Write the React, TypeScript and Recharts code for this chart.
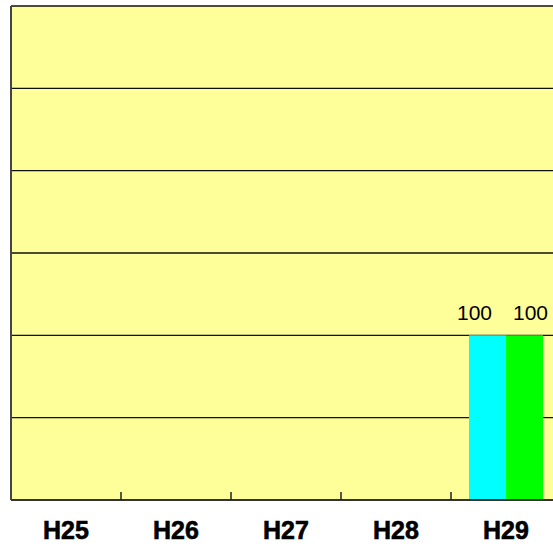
import React from "react";
import { BarChart, Bar, XAxis, YAxis, CartesianGrid, LabelList } from "recharts";

const categories = ["H25", "H26", "H27", "H28", "H29"];
const seriesA = [null, null, null, null, 100];
const seriesB = [null, null, null, null, 100];
const yTicks = [0, 50, 100, 150, 200, 250, 300];

const data = categories.map((c, i) => ({ name: c, a: seriesA[i], b: seriesB[i] }));

const FONT = "'Liberation Sans', Arial, sans-serif";

const CatTick = (props: any) => {
  const { x, y, payload, index } = props;
  const off = payload && typeof payload.offset === "number" && payload.offset > 0 ? payload.offset : 55;
  return (
    <g>
      {index > 0 && (
        <line x1={x - off} x2={x - off} y1={y} y2={y - 8} stroke="#222" strokeWidth={1.5} />
      )}
      <text
        x={x}
        y={y + 39}
        textAnchor="middle"
        fontFamily={FONT}
        fontWeight="bold"
        fontSize={25}
        fill="#000"
        stroke="#000"
        strokeWidth={0.6}
      >
        {payload.value}
      </text>
    </g>
  );
};

const EmptyTick = () => <g />;

const makeLabel = (dx: number) => (props: any) => {
  const { x, y, width, value } = props;
  if (value == null) return null;
  return (
    <text
      x={x + width / 2 + dx}
      y={y - 15}
      textAnchor="middle"
      fontFamily={FONT}
      fontSize={21}
      fill="#000"
    >
      {value}
    </text>
  );
};

export default function App() {
  return (
    <div style={{ position: "absolute", left: 0, top: 0, width: 553, height: 546, overflow: "hidden", background: "#fff" }}>
      <BarChart
        width={575}
        height={546}
        data={data}
        margin={{ top: 6, left: 10, right: 14, bottom: 0 }}
        barCategoryGap={18}
        barGap={0}
      >
        <CartesianGrid
          vertical={false}
          stroke="#111"
          strokeWidth={1.3}
          fill="#FFFF99"
          fillOpacity={1}
        />
        <XAxis
          dataKey="name"
          height={46}
          tickLine={false}
          tickSize={0}
          tickMargin={0}
          axisLine={{ stroke: "#333", strokeWidth: 2 }}
          tick={<CatTick />}
          interval={0}
        />
        <YAxis
          width={1}
          domain={[0, 300]}
          ticks={yTicks}
          interval={0}
          tick={<EmptyTick />}
          tickLine={false}
          axisLine={{ stroke: "#444", strokeWidth: 2 }}
        />
        <Bar dataKey="a" fill="#00FFFF" isAnimationActive={false}>
          <LabelList dataKey="a" content={makeLabel(-13)} />
        </Bar>
        <Bar dataKey="b" fill="#00FF00" isAnimationActive={false}>
          <LabelList dataKey="b" content={makeLabel(6)} />
        </Bar>
      </BarChart>
    </div>
  );
}
